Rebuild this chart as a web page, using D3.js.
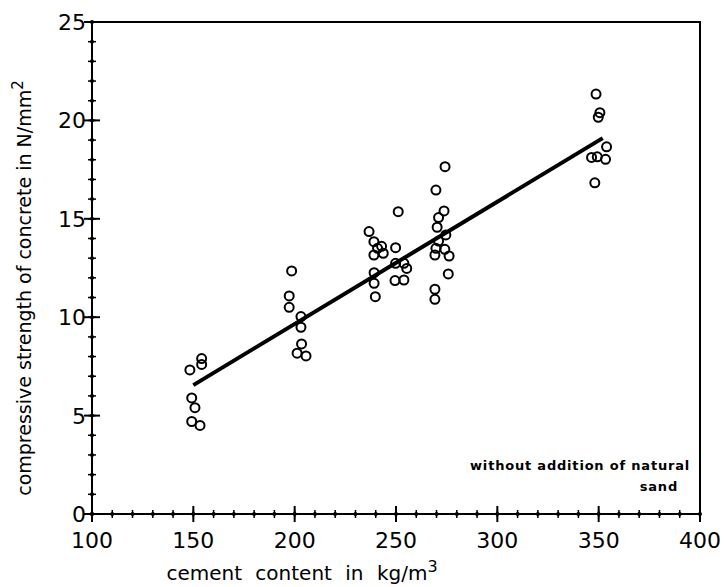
<!DOCTYPE html>
<html>
<head>
<meta charset="utf-8">
<script src="https://cdnjs.cloudflare.com/ajax/libs/d3/7.8.5/d3.min.js"></script>
<style>
  body { margin: 0; background: #fff; }
  svg text { font-family: "DejaVu Sans", "Liberation Sans", sans-serif; fill: #000; }
</style>
</head>
<body>
<svg id="chart" width="724" height="587"></svg>
<script>
// cement content (kg/m3) and compressive strength (N/mm2)
var cement = [148.3, 154.1, 154.1, 149.2, 150.8, 149.2, 153.3,
  198.5, 197.3, 197.3, 203.1, 203.1, 203.4, 201.2, 205.6,
  251.1, 236.7, 239.1, 242.9, 240.9, 243.7, 239.1, 249.8, 249.8, 253.9, 255.3, 239.2, 249.5, 253.9, 239.2, 239.8,
  274.2, 269.7, 273.7, 271.0, 270.3, 274.6, 271.0, 269.7, 274.1, 269.2, 276.2, 275.8, 269.2, 269.2,
  348.7, 350.6, 349.8, 353.9, 346.5, 349.3, 353.4, 348.1];
var strength = [7.32, 7.9, 7.6, 5.9, 5.4, 4.7, 4.5,
  12.35, 11.08, 10.5, 10.03, 9.49, 8.64, 8.17, 8.03,
  15.36, 14.35, 13.84, 13.6, 13.5, 13.25, 13.16, 13.53, 12.74, 12.74, 12.48, 12.26, 11.86, 11.89, 11.72, 11.04,
  17.65, 16.46, 15.4, 15.06, 14.57, 14.18, 13.87, 13.5, 13.45, 13.16, 13.11, 12.2, 11.42, 10.91,
  21.34, 20.39, 20.16, 18.66, 18.12, 18.15, 18.02, 16.83];
// regression line end points
var fitX = [150, 352];
var fitY = [6.55, 19.1];
var xTicks = [100, 150, 200, 250, 300, 350, 400];
var yTicks = [0, 5, 10, 15, 20, 25];
var xMinor = d3.range(100, 401, 10);
var yMinor = d3.range(0, 25.1, 1);

var svg = d3.select("#chart");
var x = d3.scaleLinear().domain([100, 400]).range([92, 700]);
var y = d3.scaleLinear().domain([0, 25]).range([514, 22]);

// frame top and right
svg.append("path")
  .attr("d", "M" + x(100) + "," + y(25) + "H" + x(400) + "V" + y(0))
  .attr("fill", "none").attr("stroke", "#000").attr("stroke-width", 2);

// axes
svg.append("line").attr("x1", x(100)).attr("x2", x(400)).attr("y1", y(0)).attr("y2", y(0))
  .attr("stroke", "#000").attr("stroke-width", 2);
svg.append("line").attr("x1", x(100)).attr("x2", x(100)).attr("y1", y(0)).attr("y2", y(25))
  .attr("stroke", "#000").attr("stroke-width", 2);

// minor ticks (small dots on the axis)
svg.selectAll(".xm").data(xMinor).enter().append("line")
  .attr("x1", d => x(d)).attr("x2", d => x(d))
  .attr("y1", y(0) - 4).attr("y2", y(0) + 4)
  .attr("stroke", "#000").attr("stroke-width", 1.5);
svg.selectAll(".ym").data(yMinor).enter().append("line")
  .attr("x1", x(100) - 4).attr("x2", x(100) + 4)
  .attr("y1", d => y(d)).attr("y2", d => y(d))
  .attr("stroke", "#000").attr("stroke-width", 1.5);
svg.selectAll(".xd").data(xMinor).enter().append("circle")
  .attr("cx", d => x(d)).attr("cy", y(0)).attr("r", 2).attr("fill", "#000");
svg.selectAll(".yd").data(yMinor).enter().append("circle")
  .attr("cx", x(100)).attr("cy", d => y(d)).attr("r", 2).attr("fill", "#000");

// major ticks
svg.selectAll(".xM").data(xTicks).enter().append("line")
  .attr("x1", d => x(d)).attr("x2", d => x(d))
  .attr("y1", y(0) - 8).attr("y2", y(0) + 8)
  .attr("stroke", "#000").attr("stroke-width", 2);
svg.selectAll(".yM").data(yTicks).enter().append("line")
  .attr("x1", x(100) - 8).attr("x2", x(100) + 8)
  .attr("y1", d => y(d)).attr("y2", d => y(d))
  .attr("stroke", "#000").attr("stroke-width", 2);

// tick labels
svg.selectAll(".xl").data(xTicks).enter().append("text")
  .attr("x", d => x(d)).attr("y", y(0) + 34)
  .attr("text-anchor", "middle").attr("font-size", 22)
  .text(d => d);
svg.selectAll(".yl").data(yTicks).enter().append("text")
  .attr("x", x(100) - 6).attr("y", d => y(d) + 8)
  .attr("text-anchor", "end").attr("font-size", 22)
  .text(d => d);

// axis titles
var xt = svg.append("text").attr("x", 302).attr("y", 580)
  .attr("text-anchor", "middle").attr("font-size", 20).attr("word-spacing", 7);
xt.append("tspan").text("cement content in kg/m");
xt.append("tspan").attr("dy", -8).attr("font-size", 16).text("3");

var yt = svg.append("text")
  .attr("transform", "translate(31,288) rotate(-90)")
  .attr("text-anchor", "middle").attr("font-size", 19);
yt.append("tspan").text("compressive strength of concrete in N/mm");
yt.append("tspan").attr("dy", -8).attr("font-size", 15).text("2");

// annotation
svg.append("text").attr("x", 690).attr("y", 470).attr("text-anchor", "end")
  .attr("font-size", 13).attr("letter-spacing", 0.8).attr("font-weight", 600)
  .text("without addition of natural");
svg.append("text").attr("x", 678).attr("y", 491).attr("text-anchor", "end")
  .attr("font-size", 13).attr("letter-spacing", 0.8).attr("font-weight", 600)
  .text("sand");

// regression line
svg.append("line")
  .attr("x1", x(fitX[0])).attr("y1", y(fitY[0]))
  .attr("x2", x(fitX[1])).attr("y2", y(fitY[1]))
  .attr("stroke", "#000").attr("stroke-width", 4);

// data points
svg.selectAll(".pt").data(cement).enter().append("circle")
  .attr("cx", d => x(d)).attr("cy", (d, i) => y(strength[i]))
  .attr("r", 4.5)
  .attr("fill", "none").attr("stroke", "#000").attr("stroke-width", 2);
</script>
</body>
</html>
